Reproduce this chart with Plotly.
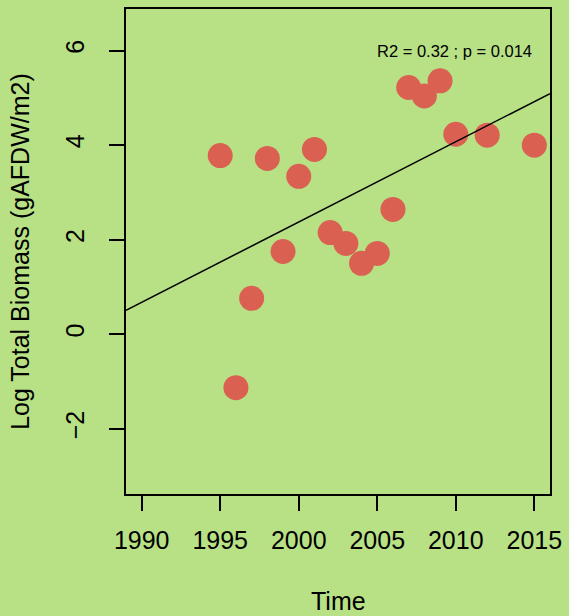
import numpy as np
import plotly.graph_objects as go

# Log total biomass per sampling year
years = [1995, 1996, 1997, 1998, 1999, 2000, 2001, 2002, 2003, 2004,
         2005, 2006, 2007, 2008, 2009, 2010, 2012, 2015]
log_biomass = [3.78, -1.13, 0.76, 3.72, 1.75, 3.34, 3.91, 2.15, 1.92, 1.50,
               1.71, 2.64, 5.22, 5.04, 5.36, 4.23, 4.21, 4.00]

x_ticks = [1990, 1995, 2000, 2005, 2010, 2015]
y_ticks = [-2, 0, 2, 4, 6]
x_range = [1989, 2016]
y_range = [-3.38, 6.88]
stats_label = "R2 = 0.32 ; p = 0.014"

BG = "#b8e186"
POINT = "#da6152"
FONT = "Liberation Sans, Arial, sans-serif"

# Least-squares trend line, drawn across the whole plotting region
slope, intercept = np.polyfit(years, log_biomass, 1)
line_x = np.array(x_range, dtype=float)
line_y = intercept + slope * line_x

fig = go.Figure()
fig.add_trace(go.Scatter(
    x=years, y=log_biomass, mode="markers",
    marker=dict(size=25, color=POINT, line=dict(width=0)),
    hoverinfo="x+y", showlegend=False,
))
fig.add_trace(go.Scatter(
    x=line_x, y=line_y, mode="lines",
    line=dict(color="black", width=1.5),
    hoverinfo="skip", showlegend=False,
))

axis_common = dict(
    showgrid=False, zeroline=False,
    showline=True, mirror=True, linecolor="black", linewidth=1.5,
    ticks="outside", ticklen=15, tickwidth=1.5, tickcolor="black",
    tickfont=dict(size=25, color="black", family=FONT),
)

fig.update_layout(
    width=569, height=616,
    margin=dict(l=126, r=17, t=7, b=122),
    paper_bgcolor=BG, plot_bgcolor=BG,
    font=dict(family=FONT, color="black"),
    xaxis=dict(range=x_range, tickvals=x_ticks, ticklabelstandoff=8, **axis_common),
    yaxis=dict(range=y_range, tickvals=y_ticks, tickangle=-90, ticklabelstandoff=15,
               **axis_common),
    annotations=[
        dict(text="Time", xref="paper", yref="paper", x=0.5, y=-0.2216,
             xanchor="center", yanchor="middle", showarrow=False,
             font=dict(size=25, color="black", family=FONT)),
        dict(text="Log Total Biomass (gAFDW/m2)", xref="paper", yref="paper",
             x=-0.2515, y=0.5, textangle=-90, xanchor="center", yanchor="middle",
             showarrow=False, font=dict(size=25, color="black", family=FONT)),
        dict(text=stats_label, xref="paper", yref="paper", x=0.963, y=0.913,
             xanchor="right", yanchor="middle", showarrow=False,
             font=dict(size=16.5, color="black", family=FONT)),
    ],
)

fig.write_html("out.html")
